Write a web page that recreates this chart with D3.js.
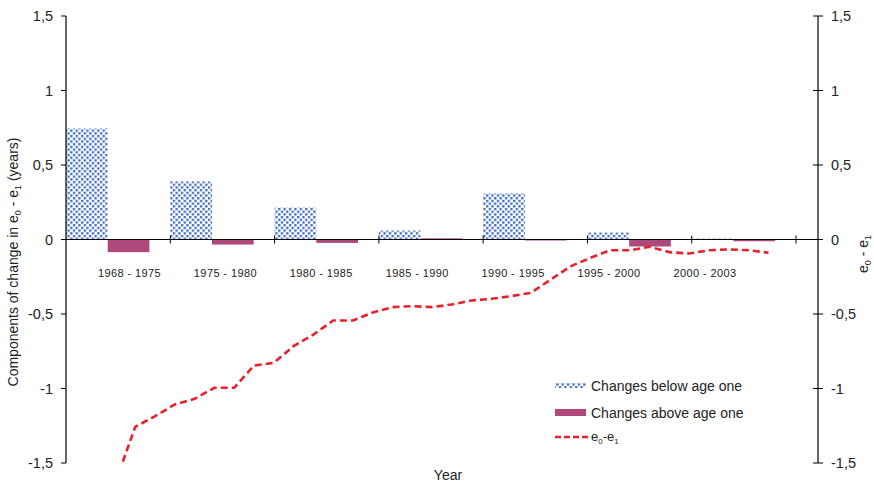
<!DOCTYPE html>
<html>
<head>
<meta charset="utf-8">
<script src="https://cdn.jsdelivr.net/npm/d3@7"></script>
<style>
  html, body { margin: 0; padding: 0; background: #fff; }
  svg { display: block; font-family: "Liberation Sans", Arial, sans-serif; }
</style>
</head>
<body>
<svg id="chart" width="874" height="482"></svg>
<script>
// ---------------- data ----------------
const periods = ["1968 - 1975", "1975 - 1980", "1980 - 1985", "1985 - 1990", "1990 - 1995", "1995 - 2000", "2000 - 2003"];
const belowAgeOne = [0.745, 0.39, 0.215, 0.06, 0.31, 0.047, 0.006];
const aboveAgeOne = [-0.085, -0.034, -0.023, 0.008, -0.006, -0.047, -0.012];

const lineYears = [1970, 1971, 1972, 1973, 1974, 1975, 1976, 1977, 1978, 1979, 1980, 1981, 1982, 1983, 1984, 1985, 1986,
  1987, 1988, 1989, 1990, 1991, 1992, 1993, 1994, 1995, 1996, 1997, 1998, 1999, 2000, 2001, 2002, 2003];
const e0MinusE1 = [-1.63, -1.257, -1.186, -1.107, -1.069, -0.995, -0.995, -0.846, -0.828, -0.716, -0.638, -0.544, -0.544,
  -0.49, -0.454, -0.447, -0.454, -0.436, -0.409, -0.398, -0.38, -0.358, -0.268, -0.18, -0.123, -0.072, -0.072, -0.049,
  -0.085, -0.094, -0.072, -0.067, -0.072, -0.089];

const yTicks = [1.5, 1, 0.5, 0, -0.5, -1, -1.5];
const legendLabels = ["Changes below age one", "Changes above age one"];

// ---------------- layout ----------------
const svg = d3.select("#chart");
const pL = 66, pR = 818, catR = 796, pT = 16, pB = 463;

const y = d3.scaleLinear().domain([-1.5, 1.5]).range([pB, pT]);
const x = d3.scaleBand().domain(periods).range([pL, catR]).paddingInner(0).paddingOuter(0);
const xLabel = d3.scalePoint().domain(periods).range([129.5, 705]);
const xYear = d3.scaleLinear().domain([1967.5, 2005.5]).range([pL, pR]);

const fmt = d => String(d).replace(".", ",");

// pattern
const defs = svg.append("defs");
const pat = defs.append("pattern").attr("id", "dots").attr("patternUnits", "userSpaceOnUse")
  .attr("width", 5.4).attr("height", 5.4);
pat.append("rect").attr("width", 5.4).attr("height", 5.4).attr("fill", "#fff");
pat.append("rect").attr("x", 0).attr("y", 0).attr("width", 2.3).attr("height", 2.3).attr("fill", "#3f6cc4");
pat.append("rect").attr("x", 2.7).attr("y", 2.7).attr("width", 2.3).attr("height", 2.3).attr("fill", "#3f6cc4");

defs.append("clipPath").attr("id", "plotClip").append("rect")
  .attr("x", pL).attr("y", pT).attr("width", pR - pL).attr("height", pB - pT);

// bars
const bw = x.bandwidth() * 0.4;
svg.append("g").selectAll("rect").data(periods).join("rect")
  .attr("x", d => x(d))
  .attr("y", (d, i) => y(Math.max(0, belowAgeOne[i])))
  .attr("width", bw)
  .attr("height", (d, i) => Math.abs(y(belowAgeOne[i]) - y(0)))
  .attr("fill", "url(#dots)");

svg.append("g").selectAll("rect").data(periods).join("rect")
  .attr("x", d => x(d) + bw)
  .attr("y", (d, i) => y(Math.max(0, aboveAgeOne[i])))
  .attr("width", bw)
  .attr("height", (d, i) => Math.max(1, Math.abs(y(aboveAgeOne[i]) - y(0))))
  .attr("fill", "#b0497b");

// x axis line at 0
svg.append("line").attr("x1", pL).attr("x2", pR).attr("y1", y(0)).attr("y2", y(0))
  .attr("stroke", "#000").attr("stroke-width", 1.2);
const xTickPos = periods.map(p => x(p) + x.bandwidth());
svg.append("g").selectAll("line").data(xTickPos).join("line")
  .attr("x1", d => d).attr("x2", d => d).attr("y1", y(0) - 4).attr("y2", y(0) + 4)
  .attr("stroke", "#000").attr("stroke-width", 1);

// category labels
svg.append("g").selectAll("text").data(periods).join("text")
  .attr("x", d => xLabel(d)).attr("y", 277)
  .attr("text-anchor", "middle").attr("font-size", 11).attr("letter-spacing", 0.4)
  .attr("fill", "#222").text(d => d);

// left axis
const gl = svg.append("g");
gl.append("line").attr("x1", pL).attr("x2", pL).attr("y1", pT).attr("y2", pB).attr("stroke", "#000").attr("stroke-width", 1.2);
gl.selectAll("line.t").data(yTicks).join("line").attr("class", "t")
  .attr("x1", pL - 5).attr("x2", pL).attr("y1", d => y(d)).attr("y2", d => y(d)).attr("stroke", "#000");
gl.selectAll("text").data(yTicks).join("text")
  .attr("x", 53).attr("y", d => y(d)).attr("dy", "0.35em").attr("text-anchor", "end")
  .attr("font-size", 14.5).attr("fill", "#222").text(fmt);

// right axis
const gr = svg.append("g");
gr.append("line").attr("x1", pR).attr("x2", pR).attr("y1", pT).attr("y2", pB).attr("stroke", "#000").attr("stroke-width", 1.2);
gr.selectAll("line.t").data(yTicks).join("line").attr("class", "t")
  .attr("x1", pR - 5).attr("x2", pR + 5).attr("y1", d => y(d)).attr("y2", d => y(d)).attr("stroke", "#000");
gr.selectAll("text").data(yTicks).join("text")
  .attr("x", 831).attr("y", d => y(d)).attr("dy", "0.35em").attr("text-anchor", "start")
  .attr("font-size", 14.5).attr("fill", "#222").text(fmt);

// line
const lineGen = d3.line().x((d, i) => xYear(lineYears[i])).y(d => y(d));
svg.append("path").datum(e0MinusE1)
  .attr("clip-path", "url(#plotClip)")
  .attr("d", lineGen)
  .attr("fill", "none").attr("stroke", "#e8202a").attr("stroke-width", 2.6)
  .attr("stroke-dasharray", "7,4");

// axis titles
const lt = svg.append("text").attr("transform", "translate(18,262) rotate(-90)")
  .attr("text-anchor", "middle").attr("font-size", 14).attr("fill", "#222");
lt.append("tspan").text("Components of change in e");
lt.append("tspan").attr("font-size", 9).attr("dy", 3).text("0");
lt.append("tspan").attr("dy", -3).text(" - e");
lt.append("tspan").attr("font-size", 9).attr("dy", 3).text("1");
lt.append("tspan").attr("dy", -3).text(" (years)");

const rt = svg.append("text").attr("transform", "translate(868,254) rotate(-90)")
  .attr("text-anchor", "middle").attr("font-size", 14).attr("fill", "#222");
rt.append("tspan").text("e");
rt.append("tspan").attr("font-size", 9).attr("dy", 3).text("0");
rt.append("tspan").attr("dy", -3).text(" - e");
rt.append("tspan").attr("font-size", 9).attr("dy", 3).text("1");

svg.append("text").attr("x", 448).attr("y", 480).attr("text-anchor", "middle")
  .attr("font-size", 14).attr("fill", "#222").text("Year");

// legend
const lg = svg.append("g");
lg.append("rect").attr("x", 555).attr("y", 383).attr("width", 31).attr("height", 5).attr("fill", "url(#dots)");
lg.append("text").attr("x", 591).attr("y", 391).attr("font-size", 14).attr("fill", "#222").text(legendLabels[0]);
lg.append("rect").attr("x", 555).attr("y", 409).attr("width", 31).attr("height", 7).attr("fill", "#b0497b");
lg.append("text").attr("x", 591).attr("y", 418).attr("font-size", 14).attr("fill", "#222").text(legendLabels[1]);
lg.append("line").attr("x1", 555).attr("x2", 588).attr("y1", 437).attr("y2", 437)
  .attr("stroke", "#e8202a").attr("stroke-width", 2.6).attr("stroke-dasharray", "6,3");
const le = lg.append("text").attr("x", 591).attr("y", 441).attr("font-size", 13).attr("fill", "#222");
le.append("tspan").text("e");
le.append("tspan").attr("font-size", 8).attr("dy", 3).text("0");
le.append("tspan").attr("dy", -3).text("-e");
le.append("tspan").attr("font-size", 8).attr("dy", 3).text("1");
</script>
</body>
</html>
